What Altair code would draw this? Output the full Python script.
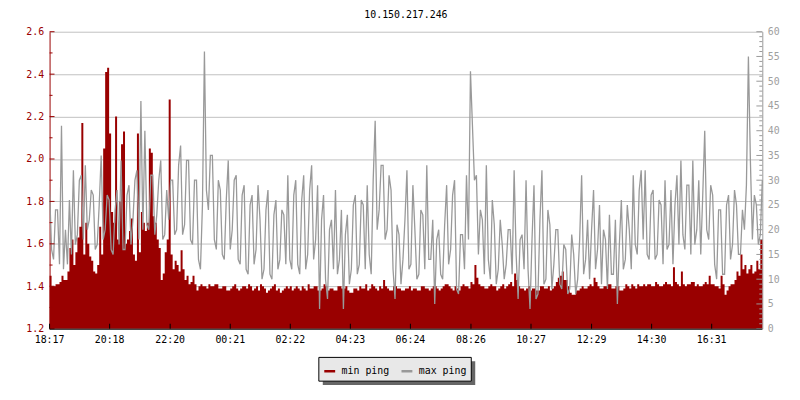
import altair as alt
import pandas as pd

# ---- data (one sample every 4 minutes from 18:17) ----
min_ping = [
    1.45,1.40, 1.40,1.41, 1.41,1.42, 1.45,1.43, 1.43,1.47, 1.58,1.62, 1.50,1.56, 1.63,1.68, 2.17,1.55, 1.70,1.60,
    1.54,1.52, 1.47,1.46, 1.50,1.68, 1.55,2.05, 2.41,2.43, 2.12,1.75, 1.70,2.20, 1.62,1.80, 2.07,2.13, 1.60,1.62,
    1.66,1.72, 1.55,1.52, 2.12,1.56, 1.75,1.70, 1.66,1.70, 2.05,2.03, 1.73,1.70, 1.62,1.58, 1.43,1.46, 1.56,1.62,
    2.28,1.55, 1.48,1.52, 1.50,1.47, 1.57,1.48, 1.43,1.45, 1.41,1.42, 1.45,1.41, 1.38,1.40, 1.41,1.40, 1.40,1.39,
    1.41,1.40, 1.40,1.41, 1.41,1.39, 1.39,1.40, 1.40,1.38, 1.38,1.39, 1.40,1.41, 1.39,1.38, 1.39,1.40, 1.40,1.39,
    1.41,1.40, 1.38,1.39, 1.40,1.38, 1.41,1.40, 1.39,1.37, 1.38,1.39, 1.40,1.41, 1.38,1.39, 1.37,1.38, 1.39,1.40,
    1.39,1.40, 1.38,1.39, 1.40,1.39, 1.38,1.40, 1.39,1.38, 1.41,1.39, 1.39,1.40, 1.40,1.38, 1.38,1.39, 1.41,1.40,
    1.38,1.39, 1.39,1.38, 1.38,1.40, 1.40,1.39, 1.39,1.40, 1.38,1.37, 1.37,1.39, 1.39,1.38, 1.40,1.39, 1.39,1.41,
    1.38,1.39, 1.41,1.40, 1.39,1.38, 1.40,1.39, 1.43,1.40, 1.39,1.38, 1.38,1.40, 1.40,1.39, 1.39,1.38, 1.38,1.39,
    1.39,1.40, 1.38,1.39, 1.39,1.38, 1.38,1.40, 1.40,1.39, 1.39,1.38, 1.39,1.40, 1.40,1.39, 1.38,1.39, 1.40,1.41,
    1.41,1.40, 1.39,1.38, 1.40,1.39, 1.38,1.40, 1.41,1.40, 1.40,1.39, 1.42,1.41, 1.50,1.44, 1.41,1.40, 1.40,1.39,
    1.39,1.40, 1.41,1.40, 1.40,1.38, 1.39,1.40, 1.41,1.39, 1.40,1.41, 1.42,1.40, 1.46,1.43, 1.40,1.39, 1.39,1.38,
    1.39,1.40, 1.38,1.39, 1.39,1.38, 1.38,1.40, 1.40,1.39, 1.39,1.40, 1.38,1.39, 1.40,1.42, 1.44,1.45, 1.47,1.43,
    1.43,1.40, 1.37,1.36, 1.36,1.38, 1.38,1.39, 1.40,1.39, 1.39,1.40, 1.41,1.40, 1.44,1.42, 1.40,1.39, 1.39,1.40,
    1.40,1.41, 1.41,1.39, 1.39,1.40, 1.40,1.38, 1.38,1.39, 1.41,1.40, 1.39,1.41, 1.40,1.39, 1.41,1.40, 1.40,1.41,
    1.40,1.41, 1.41,1.40, 1.40,1.42, 1.41,1.40, 1.40,1.41, 1.42,1.41, 1.41,1.40, 1.49,1.42, 1.41,1.40, 1.47,1.41,
    1.40,1.41, 1.41,1.42, 1.42,1.40, 1.41,1.40, 1.40,1.41, 1.42,1.41, 1.45,1.41, 1.41,1.40, 1.40,1.39, 1.45,1.41,
    1.36,1.38, 1.40,1.41, 1.41,1.43, 1.47,1.45, 1.55,1.48, 1.50,1.46, 1.48,1.50, 1.46,1.47, 1.52,1.48, 1.62,1.58,
]
max_ping = [
    28,16, 14,24, 24,13, 41,12, 20,13, 26,15, 32,17, 19,30, 31,18, 33,20,
    22,28, 27,16, 17,25, 35,18, 20,27, 26,16, 15,24, 28,17, 34,16, 16,27,
    29,17, 22,30, 32,18, 46,20, 40,21, 20,31, 31,19, 23,30, 34,18, 19,28,
    22,30, 30,19, 20,33, 37,19, 21,34, 34,18, 17,30, 30,14, 12,25, 56,28,
    24,35, 35,18, 16,30, 28,15, 14,26, 34,16, 20,30, 31,14, 13,27, 29,12,
    11,25, 27,13, 16,29, 22,10, 12,24, 28,11, 10,23, 26,12, 14,24, 23,13,
    31,14, 12,27, 30,13, 11,26, 31,12, 15,28, 33,14, 18,29, 4,22, 27,10,
    6,20, 22,12, 28,11, 14,24, 4,19, 23,9, 12,25, 27,11, 13,26, 25,12,
    29,15, 11,30, 42,20, 24,33, 33,18, 20,31, 28,12, 6,21, 19,9, 14,22,
    32,12, 13,29, 20,10, 11,24, 23,12, 33,14, 14,22, 5,18, 20,11, 10,21,
    29,13, 16,27, 30,8, 7,19, 19,12, 31,18, 52,41, 30,31, 15,24, 22,11,
    33,14, 10,26, 21,9, 12,22, 17,10, 13,20, 20,11, 32,15, 6,18, 19,12,
    30,12, 4,18, 29,6, 7,22, 32,9, 10,24, 21,8, 13,20, 20,9, 8,17,
    16,7, 8,19, 15,7, 10,18, 31,11, 14,22, 10,20, 28,12, 16,25, 9,20,
    18,8, 23,11, 11,22, 5,17, 26,12, 14,25, 20,12, 31,17, 15,28, 32,18,
    32,15, 14,27, 28,14, 15,26, 25,13, 30,16, 17,28, 13,25, 31,17, 34,19,
    16,29, 29,15, 34,17, 20,30, 15,27, 40,20, 18,29, 27,13, 10,24, 24,11,
    11,25, 27,14, 17,28, 25,15, 15,24, 20,29, 55,34, 18,27, 25,17, 19,30,
]
minutes = [4 * i for i in range(len(min_ping))]

tick_minutes = [0, 121, 243, 364, 485, 606, 727, 849, 970, 1092, 1213, 1334]
tick_labels = ["18:17", "20:18", "22:20", "00:21", "02:22", "04:23",
               "06:24", "08:26", "10:27", "12:29", "14:30", "16:31"]
left_major = [1.2, 1.4, 1.6, 1.8, 2.0, 2.2, 2.4, 2.6]
left_minor = [1.3, 1.5, 1.7, 1.9, 2.1, 2.3, 2.5]
right_major = [0, 5, 10, 15, 20, 25, 30, 35, 40, 45, 50, 55, 60]
right_minor = [v for v in range(61) if v % 5 != 0]
series_names = ["min ping", "max ping"]
series_colors = ["#990000", "#999999"]

RED = "#990000"
GREY = "#999999"
FONT = "DejaVu Sans Mono"
W, H = 720, 300

df = pd.DataFrame({"t": minutes, "min": min_ping, "max": max_ping})
ticks_df = pd.DataFrame({"t": tick_minutes, "label": tick_labels})

xscale = alt.Scale(domain=[0, 1436], nice=False, zero=False)
lscale = alt.Scale(domain=[1.2, 2.6], nice=False, zero=False)
rscale = alt.Scale(domain=[0, 60], nice=False, zero=False)

area = alt.Chart(df).mark_area(interpolate="step-after", color=RED, opacity=1).encode(
    x=alt.X("t:Q", scale=xscale, axis=None),
    y=alt.Y("min:Q", scale=lscale,
            axis=alt.Axis(orient="left", values=left_major, format=".1f", title=None, ticks=False,
                          domainColor=RED, labelColor=RED, labelFont=FONT, labelFontSize=10,
                          labelPadding=6, grid=True, gridColor="#c0c0c0", gridWidth=1)),
    y2=alt.datum(1.2),
)

line = alt.Chart(df).mark_line(color=GREY, strokeWidth=1.3).encode(
    x=alt.X("t:Q", scale=xscale, axis=None),
    y=alt.Y("max:Q", scale=rscale,
            axis=alt.Axis(orient="right", values=right_major, title=None, ticks=False,
                          domainColor=GREY, labelColor="#a0a0a0", labelFont=FONT, labelFontSize=10,
                          labelPadding=5, grid=False)),
)

lmaj = alt.Chart(pd.DataFrame({"v": left_major})).mark_rule(color=RED).encode(
    y=alt.Y("v:Q", scale=lscale, axis=None), x=alt.value(0), x2=alt.value(5))
lmin = alt.Chart(pd.DataFrame({"v": left_minor})).mark_rule(color=RED).encode(
    y=alt.Y("v:Q", scale=lscale, axis=None), x=alt.value(0), x2=alt.value(3))
rmaj = alt.Chart(pd.DataFrame({"v": right_major})).mark_rule(color=GREY).encode(
    y=alt.Y("v:Q", scale=rscale, axis=None), x=alt.value(W - 6), x2=alt.value(W))
rmin = alt.Chart(pd.DataFrame({"v": right_minor})).mark_rule(color=GREY).encode(
    y=alt.Y("v:Q", scale=rscale, axis=None), x=alt.value(W - 3), x2=alt.value(W))

# bottom axis: domain line, inward ticks and labels
xdomain = alt.Chart(pd.DataFrame({"a": [0]})).mark_rule(color="black", strokeWidth=1).encode(
    x=alt.value(0), x2=alt.value(W), y=alt.value(H + 0.5))
xt = alt.Chart(ticks_df).mark_rule(color="black").encode(
    x=alt.X("t:Q", scale=xscale, axis=None), y=alt.value(H), y2=alt.value(H - 5))
xlab = alt.Chart(ticks_df).mark_text(font=FONT, fontSize=10, color="black", baseline="top", align="center").encode(
    x=alt.X("t:Q", scale=xscale, axis=None), y=alt.value(H + 6), text="label:N")

shadow = alt.Chart(pd.DataFrame({"a": [0]})).mark_rect(color="#666666").encode(
    x=alt.value(276), x2=alt.value(430), y=alt.value(333), y2=alt.value(357))
box = alt.Chart(pd.DataFrame({"a": [0]})).mark_rect(fill="#e8e8e8", stroke="black", strokeWidth=1).encode(
    x=alt.value(272), x2=alt.value(426), y=alt.value(329), y2=alt.value(353))

legend_layer = alt.Chart(pd.DataFrame({"series": series_names})).transform_filter("false").mark_line().encode(
    x=alt.value(0), y=alt.value(0),
    color=alt.Color("series:N", scale=alt.Scale(domain=series_names, range=series_colors),
                    legend=alt.Legend(orient="none", legendX=272, legendY=332, direction="horizontal",
                                      title=None, symbolType="stroke", symbolStrokeWidth=2.5,
                                      symbolSize=121, labelFont=FONT, labelFontSize=10,
                                      labelColor="black", padding=4, columnPadding=6,
                                      labelOffset=5)),
)

chart = alt.layer(area, line, lmaj, lmin, rmaj, rmin, xdomain, xt, xlab, shadow, box, legend_layer).resolve_scale(
    y="independent"
).properties(
    width=W, height=H,
    title=alt.TitleParams("10.150.217.246", font=FONT, fontSize=10, fontWeight="normal",
                          color="black", anchor="middle", offset=7),
    autosize=alt.AutoSizeParams(type="none"),
    padding={"left": 42, "top": 22, "right": 30, "bottom": 62},
    background="white",
).configure_view(strokeWidth=0)

chart.save("out.html", embed_options={"renderer": "svg", "actions": False})
